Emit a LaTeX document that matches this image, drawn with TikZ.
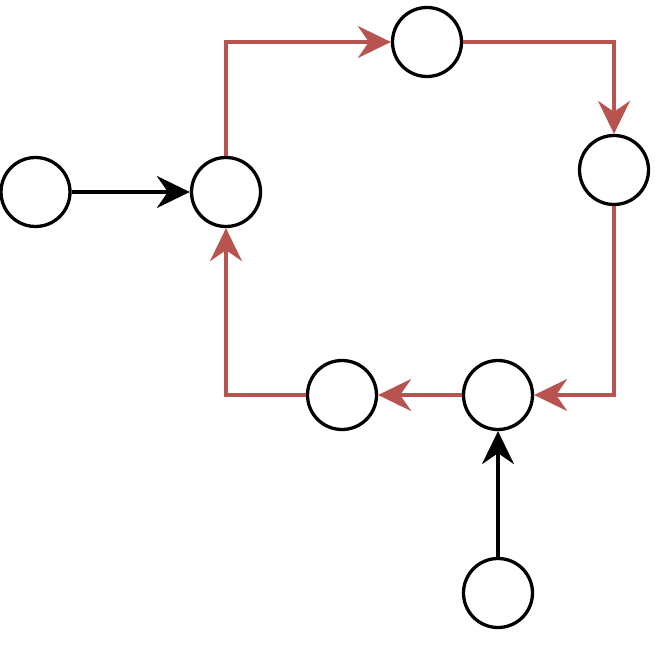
\documentclass[tikz,border=0pt]{standalone}
\usetikzlibrary{arrows.meta}
\definecolor{redline}{HTML}{B85450}
\begin{document}
\begin{tikzpicture}[x=1pt,y=-1pt,
  circ/.style={circle,draw=black,line width=3.3pt,minimum size=69pt,inner sep=0pt,fill=white},
  blk/.style={draw=black,line width=3.1pt,-{Stealth[length=33pt,width=32pt,inset=11pt]}},
  redc/.style={draw=redline,line width=3.1pt,-{Stealth[length=33pt,width=32pt,inset=11pt]}}]
\useasboundingbox (0,0) rectangle (670,655);
\node[circ] (A) at (35.5,192) {};
\node[circ] (B) at (226,192) {};
\node[circ] (C) at (427,42) {};
\node[circ] (D) at (614,170) {};
\node[circ] (E) at (498,395) {};
\node[circ] (F) at (342,395) {};
\node[circ] (G) at (498,593) {};
\draw[blk] (A) -- (B);
\draw[blk] (G) -- (E);
\draw[redc] (B.north) |- (C.west);
\draw[redc] (C.east) -| (D.north);
\draw[redc] (D.south) |- (E.east);
\draw[redc] (E.west) -- (F.east);
\draw[redc] (F.west) -| (B.south);
\end{tikzpicture}
\end{document}
